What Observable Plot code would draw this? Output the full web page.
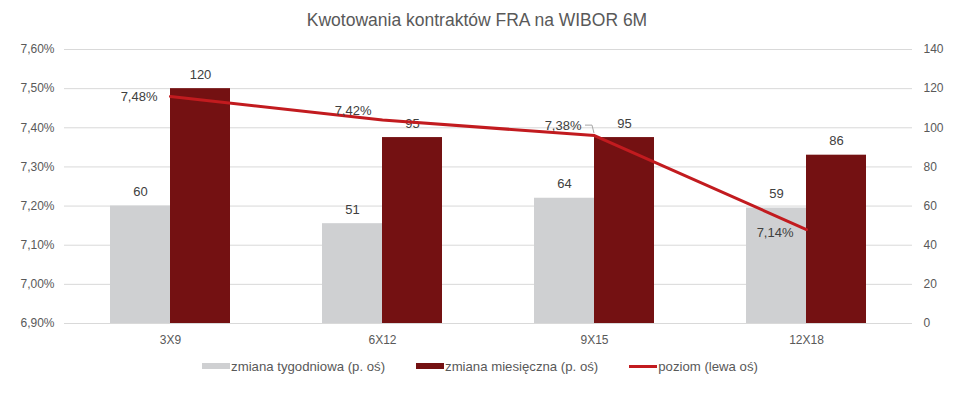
<!DOCTYPE html>
<html><head><meta charset="utf-8">
<script src="https://cdn.jsdelivr.net/npm/d3@7"></script>
<script src="https://cdn.jsdelivr.net/npm/@observablehq/plot@0.6"></script>
<style>
body{margin:0;background:#fff;font-family:"Liberation Sans",Arial,sans-serif;width:954px;}
#title{height:40px;line-height:40px;text-align:center;font-size:17.5px;color:#595959;}
#chart svg{display:block;}
#legend{height:32px;display:flex;justify-content:center;align-items:center;font-size:13.2px;color:#595959;padding-left:6px;}
.item{display:flex;align-items:center;margin:0 15.5px;}
.sw{width:28px;margin-right:1px;}
</style></head><body>
<div id="title">Kwotowania kontraktów FRA na WIBOR 6M</div>
<div id="chart"></div>
<div id="legend"></div>
<script>
const categories = ["3X9", "6X12", "9X15", "12X18"];
const weekly = [60, 51, 64, 59];
const monthly = [120, 95, 95, 86];
const level = [7.48, 7.42, 7.38, 7.14];
const leftTicks = [6.9, 7.0, 7.1, 7.2, 7.3, 7.4, 7.5, 7.6];
const rightTicks = [0, 20, 40, 60, 80, 100, 120, 140];
const seriesNames = ["zmiana tygodniowa (p. oś)", "zmiana miesięczna (p. oś)", "poziom (lewa oś)"];

const colors = {weekly: "#cfd0d2", monthly: "#741112", level: "#c21b1f"};
const yMin = 6.9, yMax = 7.6, rMax = 140;
const toLeft = v => yMin + v * (yMax - yMin) / rMax;
const fromLeft = v => Math.round((v - yMin) * rMax / (yMax - yMin));
const fmtPct = d => d.toFixed(2).replace(".", ",") + "%";

const rows = categories.map((c, i) => ({cat: c, weekly: weekly[i], monthly: monthly[i], level: level[i]}));
const labelOffsets = [[-13, 0], [-11, -9], [-13, -10], [-13, 3]];
const textColor = "#404040";

// leader line for the third line label, drawn relative to the scaled point
const leader = Plot.dot([rows[2]], {
  x: "cat", y: "level", r: 0,
  render: (index, scales, values) => {
    let bw = 0;
    const s = scales.x;
    if (s && typeof s.bandwidth === "function") bw = s.bandwidth();
    else if (s && typeof s.bandwidth === "number") bw = s.bandwidth;
    else if (scales.scales && scales.scales.x && scales.scales.x.bandwidth) bw = scales.scales.x.bandwidth;
    const px = values.x[index[0]] + bw / 2, py = values.y[index[0]];
    const g = d3.create("svg:g");
    g.append("path")
      .attr("d", `M${px - 9},${py - 10}H${px - 2}L${px},${py - 2}`)
      .attr("fill", "none").attr("stroke", "#a6a6a6").attr("stroke-width", 1);
    return g.node();
  }
});

const plot = Plot.plot({
  width: 954, height: 310,
  marginTop: 9, marginLeft: 64, marginRight: 42, marginBottom: 27,
  style: {fontFamily: '"Liberation Sans", Arial, sans-serif', fontSize: "12px", color: "#595959", background: "#fff"},
  x: {type: "band", domain: categories, padding: 0, axis: null},
  y: {domain: [yMin, yMax], axis: null},
  marks: [
    Plot.ruleY(leftTicks, {stroke: "#d9d9d9", strokeWidth: 1}),
    Plot.axisY(leftTicks, {anchor: "left", label: null, tickSize: 0, tickPadding: 10, tickFormat: fmtPct, fontSize: 12}),
    Plot.axisY(rightTicks.map(toLeft), {anchor: "right", label: null, tickSize: 0, tickPadding: 11, tickFormat: d => String(fromLeft(d)), fontSize: 12}),
    Plot.axisX({label: null, tickSize: 0, tickPadding: 12, fontSize: 12}),
    Plot.barY(rows, {x: "cat", y1: yMin, y2: d => toLeft(d.weekly), fill: colors.weekly, insetLeft: 46, insetRight: 106}),
    Plot.barY(rows, {x: "cat", y1: yMin, y2: d => toLeft(d.monthly), fill: colors.monthly, insetLeft: 106, insetRight: 46}),
    Plot.text(rows, {x: "cat", y: d => toLeft(d.weekly), text: d => String(d.weekly), dx: -30, dy: -14, fontSize: 13, fill: textColor}),
    Plot.text(rows, {x: "cat", y: d => toLeft(d.monthly), text: d => String(d.monthly), dx: 30, dy: -14, fontSize: 13, fill: textColor}),
    leader,
    Plot.line(rows, {x: "cat", y: "level", stroke: colors.level, strokeWidth: 3}),
    ...rows.map((r, i) => Plot.text([r], {x: "cat", y: "level", text: d => fmtPct(d.level), textAnchor: "end", dx: labelOffsets[i][0], dy: labelOffsets[i][1], fontSize: 13, fill: textColor}))
  ]
});
document.getElementById("chart").append(plot);

const legend = document.getElementById("legend");
const swatches = [
  {color: colors.weekly, h: 6},
  {color: colors.monthly, h: 6},
  {color: colors.level, h: 3}
];
seriesNames.forEach((name, i) => {
  const item = document.createElement("div");
  item.className = "item";
  const sw = document.createElement("span");
  sw.className = "sw";
  sw.style.height = swatches[i].h + "px";
  sw.style.background = swatches[i].color;
  const t = document.createElement("span");
  t.textContent = name;
  item.append(sw, t);
  legend.append(item);
});
</script>
</body></html>
